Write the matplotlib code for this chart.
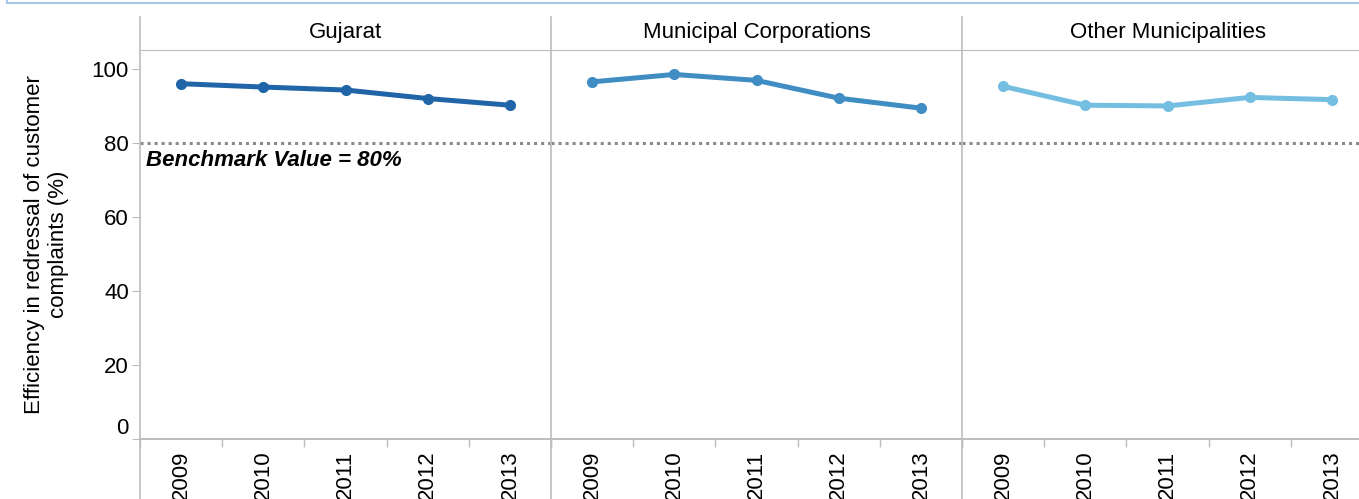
import matplotlib.pyplot as plt
from matplotlib.lines import Line2D

plt.rcParams['font.family'] = ['Liberation Sans', 'DejaVu Sans']

years = ['2009', '2010', '2011', '2012', '2013']
panels = ['Gujarat', 'Municipal Corporations', 'Other Municipalities']
gujarat = [95.9, 95.0, 94.2, 91.9, 90.1]
municipal_corps = [96.4, 98.4, 96.8, 92.0, 89.3]
other_munis = [95.2, 90.1, 89.9, 92.2, 91.6]
series = [gujarat, municipal_corps, other_munis]
colors = ['#1f65a7', '#3f8dc3', '#74bee2']
benchmark = 80

W, H = 1359, 499
fig = plt.figure(figsize=(W / 100, H / 100), dpi=100)

grey = '#bdbdbd'
fs = 16
left_px, top_px, bottom_px = 140, 50, 439
panel_w = 411
axes = []
for i in range(3):
    x0 = left_px + i * panel_w
    ax = fig.add_axes([x0 / W, (H - bottom_px) / H, panel_w / W, (bottom_px - top_px) / H])
    axes.append(ax)

for i, (ax, name, vals, c) in enumerate(zip(axes, panels, series, colors)):
    xs = range(len(years))
    ax.plot(xs, vals, color=c, lw=3.6, marker='o', ms=7, solid_capstyle='round')
    ax.axhline(benchmark, color='#8a8a8a', lw=2.2, ls=(0, (1, 1.3)), zorder=0)
    ax.set_xlim(-0.5, len(years) - 0.5)
    ax.set_ylim(0, 105)
    ax.set_xticks(list(xs))
    ax.set_xticklabels(years, rotation=90, fontsize=fs)
    ax.set_xticks([k - 0.5 for k in range(len(years) + 1)], minor=True)
    ax.tick_params(axis='x', which='major', length=0, pad=8.5)
    ax.tick_params(axis='x', which='minor', length=6, color=grey, width=1)
    for sp in ['left', 'right']:
        ax.spines[sp].set_visible(False)
    ax.spines['top'].set_color(grey)
    ax.spines['bottom'].set_color(grey)
    ax.spines['bottom'].set_linewidth(1.4)
    ax.text(0.5, 1.044, name, transform=ax.transAxes, ha='center', va='center', fontsize=fs)
    if i == 0:
        ax.set_yticks([0, 20, 40, 60, 80, 100])
        ax.tick_params(axis='y', length=6, color=grey, labelsize=fs, pad=2)
        ax.get_yticklabels()[0].set_verticalalignment('bottom')
        ax.set_ylabel('Efficiency in redressal of customer\ncomplaints (%)', fontsize=fs, labelpad=16)
        ax.annotate('Benchmark Value = 80%', xy=(-0.5, benchmark), xytext=(4.5, -5),
                    textcoords='offset points', ha='left', va='top',
                    fontsize=fs, fontweight='bold', fontstyle='italic')
    else:
        ax.set_yticks([])

# panel dividers running through header and tick labels
for i in range(3):
    x = (left_px + i * panel_w) / W
    fig.add_artist(Line2D([x, x], [0, (H - 17) / H], color=grey, lw=1.2))

# light blue frame edge at top
fig.add_artist(Line2D([7 / W, 1], [(H - 3) / H, (H - 3) / H], color='#a9c6ea', lw=1.5))
fig.add_artist(Line2D([7 / W, 7 / W], [(H - 3) / H, 1], color='#a9c6ea', lw=1.5))

fig.savefig('out.png', dpi=100)
